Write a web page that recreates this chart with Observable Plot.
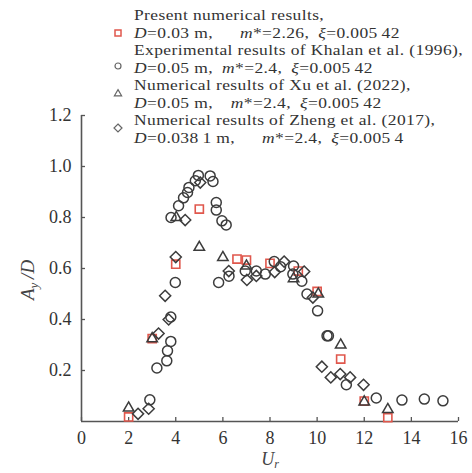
<!DOCTYPE html>
<html><head><meta charset="utf-8">
<script src="https://cdn.jsdelivr.net/npm/d3@7"></script>
<script src="https://cdn.jsdelivr.net/npm/@observablehq/plot@0.6"></script>
<style>
body{margin:0;background:#fff;}
#wrap{position:relative;width:472px;height:473px;font-family:'Liberation Serif','Times New Roman',serif;color:#333;}
.leg{position:absolute;left:134px;font-size:15.6px;line-height:17.5px;height:17.5px;white-space:nowrap;letter-spacing:0.35px;transform:scaleX(1.12);transform-origin:0 50%;}
.mk{position:absolute;left:113px;}
svg text{font-family:'Liberation Serif','Times New Roman',serif;}
</style></head><body><div id="wrap"></div>
<script>
// ---- data (Ur, Ay/D) ----
const presentU = [2, 3, 4, 5, 6.6, 7, 8, 9.2, 10, 11, 12, 13];
const presentA = [0.018, 0.325, 0.617, 0.833, 0.637, 0.633, 0.62, 0.59, 0.51, 0.245, 0.08, 0.015];

const xuU = [2, 3, 4.02, 5, 6, 7, 9, 10.05, 11, 12, 13];
const xuA = [0.053, 0.325, 0.80, 0.683, 0.643, 0.61, 0.56, 0.50, 0.30, 0.077, 0.047];

const khalanU = [2.9, 3.2, 3.62, 3.65, 3.79, 3.79, 3.98, 3.8, 4.12, 4.33, 4.5, 4.56, 4.83, 4.96, 5.46, 5.58, 5.72, 5.72, 5.96, 6.14, 5.82, 6.26, 6.95, 7.42, 7.8, 8.18, 8.45, 9.0, 8.97, 9.35, 9.57, 10.02, 10.42, 10.48, 11.24, 12.51, 13.6, 14.55, 15.34];
const khalanA = [0.085, 0.21, 0.238, 0.277, 0.314, 0.41, 0.545, 0.80, 0.846, 0.877, 0.898, 0.918, 0.944, 0.965, 0.963, 0.941, 0.859, 0.829, 0.787, 0.771, 0.545, 0.57, 0.59, 0.59, 0.578, 0.627, 0.607, 0.61, 0.578, 0.55, 0.50, 0.434, 0.336, 0.336, 0.144, 0.092, 0.084, 0.088, 0.081];

const zhengU = [2.4, 2.85, 3.27, 3.55, 3.7, 4.0, 4.4, 5.04, 6.25, 7.02, 7.42, 8.2, 8.6, 9.45, 9.82, 10.2, 10.58, 10.98, 11.4, 11.97];
const zhengA = [0.03, 0.05, 0.345, 0.493, 0.40, 0.645, 0.79, 0.937, 0.59, 0.555, 0.571, 0.586, 0.627, 0.588, 0.486, 0.215, 0.173, 0.186, 0.173, 0.144];

const xTicks = [0, 2, 4, 6, 8, 10, 12, 14, 16];
const yTicks = [0.2, 0.4, 0.6, 0.8, 1.0, 1.2];

const legendLines = [
  ["Present numerical results,", "<i>D</i>=0.03 m,&emsp;&ensp;<i>m</i>*=2.26,&ensp;<i>ξ</i>=0.005&thinsp;42"],
  ["Experimental results of Khalan et al. (1996),", "<i>D</i>=0.05 m,&ensp;<i>m</i>*=2.4,&ensp;<i>ξ</i>=0.005&thinsp;42"],
  ["Numerical results of Xu et al. (2022),", "<i>D</i>=0.05 m,&emsp;<i>m</i>*=2.4,&ensp;<i>ξ</i>=0.005&thinsp;42"],
  ["Numerical results of Zheng et al. (2017),", "<i>D</i>=0.038&thinsp;1 m,&emsp;&ensp;<i>m</i>*=2.4,&ensp;<i>ξ</i>=0.005&thinsp;4"]
];

// ---- build ----
const W = 472, H = 473, ml = 81, mr = 14, mt = 115, mb = 52;
const fw = W - ml - mr, fh = H - mt - mb;
const rows = (U, A) => U.map((u, i) => ({u, a: A[i]}));
const ink = "#3c3c3c", red = "#e0574c", axisC = "#555";
const serif = "'Liberation Serif','Times New Roman',serif";

const plot = Plot.plot({
  width: W, height: H,
  marginLeft: ml, marginRight: mr, marginTop: mt, marginBottom: mb,
  style: {fontFamily: serif, fontSize: "18px", color: "#333", background: "#fff", overflow: "visible"},
  x: {domain: [0, 16], label: null},
  y: {domain: [0, 1.2], label: null},
  marks: [
    Plot.axisX(xTicks, {tickSize: 0, tickPadding: 10, fontSize: 18, tickFormat: d3.format("d")}),
    Plot.axisY(yTicks, {tickSize: 0, tickPadding: 10, fontSize: 18, tickFormat: d3.format(".1f")}),
    Plot.tickX(xTicks, {x: d => d, insetTop: fh - 4, stroke: axisC, strokeWidth: 1.3}),
    Plot.tickY(yTicks, {y: d => d, insetRight: fw - 4, stroke: axisC, strokeWidth: 1.3}),
    Plot.ruleX([0], {stroke: axisC, strokeWidth: 1.6}),
    Plot.ruleY([0], {stroke: axisC, strokeWidth: 1.6}),
    Plot.dot(rows(presentU, presentA), {x: "u", y: "a", symbol: "square", r: 4.6, stroke: red, strokeWidth: 1.6, fill: "none"}),
    Plot.dot(rows(xuU, xuA), {x: "u", y: "a", symbol: "triangle2", r: 5, stroke: ink, strokeWidth: 1.5, fill: "none"}),
    Plot.dot(rows(khalanU, khalanA), {x: "u", y: "a", symbol: "circle", r: 5, stroke: ink, strokeWidth: 1.5, fill: "none"}),
    Plot.dot(rows(zhengU, zhengA), {x: "u", y: "a", symbol: "diamond2", r: 5, stroke: ink, strokeWidth: 1.5, fill: "none"})
  ]
});

const wrap = document.getElementById("wrap");
wrap.appendChild(plot);

// axis titles
const svg = d3.select(plot);
const yl = svg.append("text")
  .attr("transform", "translate(34,280) rotate(-90)")
  .attr("text-anchor", "middle").attr("fill", "#444")
  .style("font-family", serif).style("font-size", "19px").style("font-style", "italic");
yl.append("tspan").text("A");
yl.append("tspan").attr("dy", 4).style("font-size", "13px").text("y");
yl.append("tspan").attr("dy", -4).text("\u2009/D");

const xl = svg.append("text")
  .attr("x", 270).attr("y", 465)
  .attr("text-anchor", "middle").attr("fill", "#444")
  .style("font-family", serif).style("font-size", "18px").style("font-style", "italic");
xl.append("tspan").text("U");
xl.append("tspan").attr("dy", 3).style("font-size", "12px").text("r");

// legend
legendLines.forEach((pair, i) => {
  pair.forEach((txt, j) => {
    const d = document.createElement("div");
    d.className = "leg";
    d.style.top = (6 + (2 * i + j) * 17.5) + "px";
    d.innerHTML = txt;
    wrap.appendChild(d);
  });
});
const legMarks = [
  {y: 29, svg: `<rect x="2" y="2" width="6" height="6" fill="none" stroke="${red}" stroke-width="1.5"/>`},
  {y: 62, svg: `<circle cx="5" cy="5" r="3" fill="none" stroke="#666" stroke-width="1.2"/>`},
  {y: 89, svg: `<path d="M5,1.6L8.6,7.8H1.4Z" fill="none" stroke="#666" stroke-width="1.2"/>`},
  {y: 124, svg: `<path d="M5,1L9,5L5,9L1,5Z" fill="none" stroke="#666" stroke-width="1.2"/>`}
];
legMarks.forEach(m => {
  const d = document.createElement("div");
  d.className = "mk";
  d.style.top = (m.y - 5) + "px";
  d.innerHTML = `<svg width="10" height="10">${m.svg}</svg>`;
  wrap.appendChild(d);
});
</script></body></html>
